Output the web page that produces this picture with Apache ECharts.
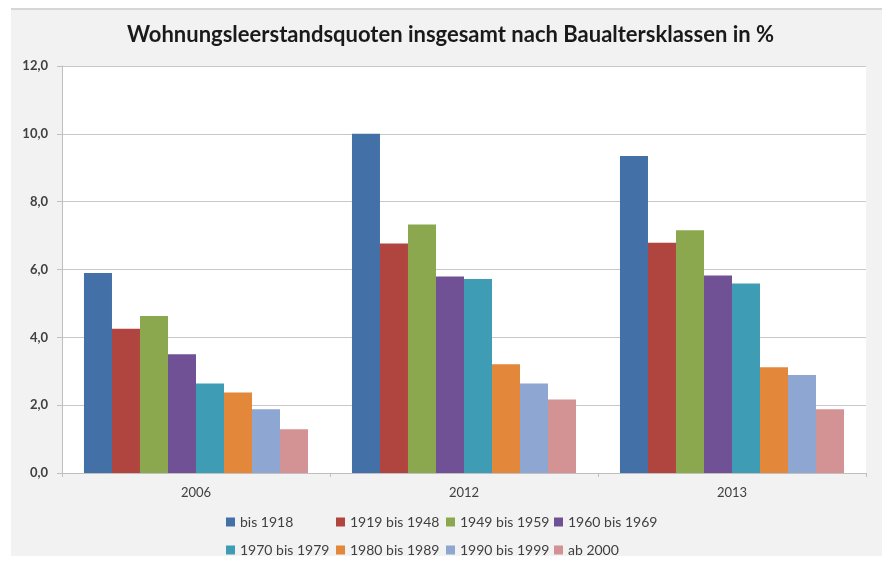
<!DOCTYPE html>
<html>
<head>
<meta charset="utf-8">
<script src="https://cdn.jsdelivr.net/npm/echarts@6/dist/echarts.min.js"></script>
<style>
html,body{margin:0;padding:0;background:#ffffff;}
#chart{width:882px;height:564px;}
</style>
</head>
<body>
<div id="chart"></div>
<script>
const categories = ['2006', '2012', '2013'];
const seriesNames = ['bis 1918', '1919 bis 1948', '1949 bis 1959', '1960 bis 1969', '1970 bis 1979', '1980 bis 1989', '1990 bis 1999', 'ab 2000'];
const bis1918 = [5.9, 10.0, 9.35];
const s1919_1948 = [4.25, 6.77, 6.79];
const s1949_1959 = [4.63, 7.33, 7.16];
const s1960_1969 = [3.5, 5.79, 5.82];
const s1970_1979 = [2.64, 5.72, 5.59];
const s1980_1989 = [2.37, 3.21, 3.12];
const s1990_1999 = [1.88, 2.64, 2.89];
const ab2000 = [1.29, 2.17, 1.88];
const yTicks = [0, 2, 4, 6, 8, 10, 12];
const titleText = 'Wohnungsleerstandsquoten insgesamt nach Baualtersklassen in %';

const seriesValues = [bis1918, s1919_1948, s1949_1959, s1960_1969, s1970_1979, s1980_1989, s1990_1999, ab2000];
const colors = ['#4470A8', '#B0443F', '#8CA84E', '#705196', '#3E9DB5', '#E3873B', '#8DA6D2', '#D39294'];
const legendCols = [226, 336, 446, 554];
const legendRows = [515, 543];

const chart = echarts.init(document.getElementById('chart'), null, {renderer: 'canvas'});
const legendText = {fontSize: 14, color: '#404040', fontFamily: 'Lato'};
const legends = seriesNames.map((name, i) => ({
  data: [name],
  left: legendCols[i % 4],
  top: legendRows[Math.floor(i / 4)],
  padding: 0,
  itemWidth: 9, itemHeight: 9, itemGap: 0, icon: 'rect',
  textStyle: legendText
}));
const option = {
  animation: false,
  backgroundColor: '#ffffff',
  graphic: [
    {type: 'rect', z: -10, shape: {x: 11, y: 9, width: 871, height: 547}, style: {fill: '#f2f2f2'}},
    {type: 'rect', z: -9, shape: {x: 11, y: 8, width: 871, height: 2}, style: {fill: '#d6d6d6'}}
  ],
  title: {
    text: titleText,
    left: 122,
    top: 19,
    textStyle: {fontFamily: 'Lato', fontWeight: 'bold', fontSize: 22, color: '#1a1a1a'}
  },
  legend: legends,
  grid: {left: 62, right: 16, top: 66, bottom: 91, show: true, backgroundColor: '#ffffff', borderWidth: 0, containLabel: false},
  xAxis: {
    type: 'category',
    data: categories,
    axisLine: {lineStyle: {color: '#bfbfbf'}},
    axisTick: {show: true, length: 4, lineStyle: {color: '#bfbfbf'}},
    axisLabel: {fontSize: 13, color: '#404040', fontFamily: 'Lato', margin: 13}
  },
  yAxis: {
    type: 'value',
    min: yTicks[0],
    max: yTicks[yTicks.length - 1],
    interval: 2,
    axisLine: {show: true, lineStyle: {color: '#bfbfbf'}},
    axisTick: {show: true, length: 5, lineStyle: {color: '#bfbfbf'}},
    splitLine: {lineStyle: {color: '#c8c8c8', width: 1}},
    axisLabel: {fontSize: 13, color: '#404040', fontFamily: 'Lato', fontWeight: 'bold', margin: 14,
      formatter: v => v.toFixed(1).replace('.', ',')}
  },
  series: seriesNames.map((name, i) => ({
    name: name,
    type: 'bar',
    data: seriesValues[i],
    barGap: '0%',
    barCategoryGap: '16.4%',
    itemStyle: {color: colors[i]}
  }))
};
chart.setOption(option);
</script>
</body>
</html>
